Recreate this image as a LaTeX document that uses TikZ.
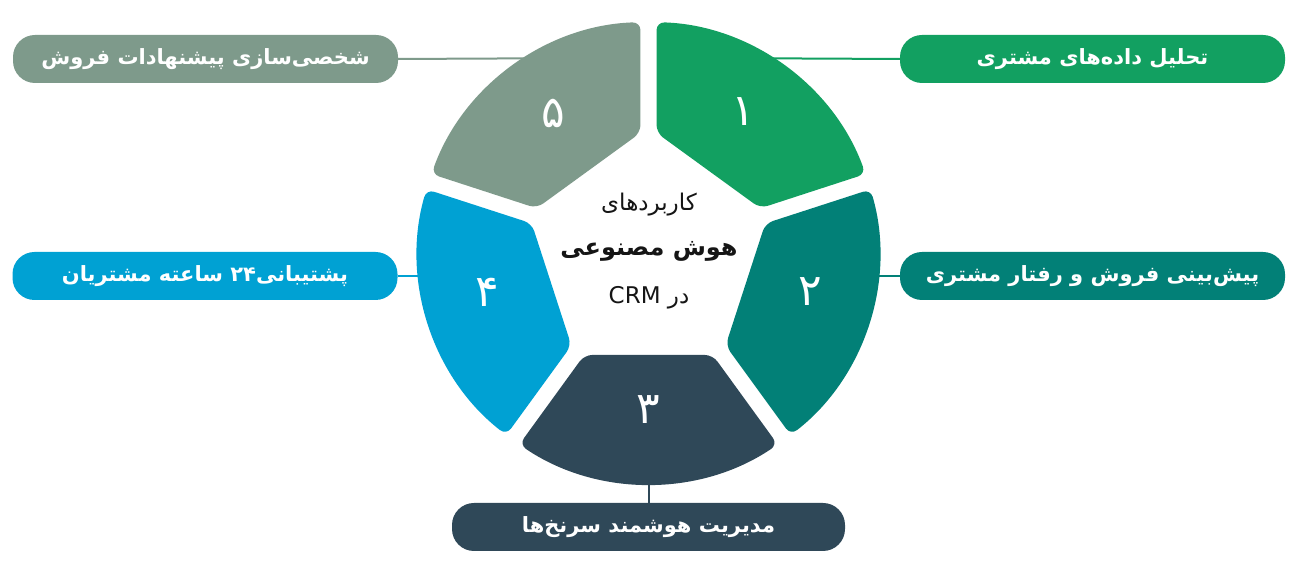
\documentclass[tikz,border=0pt]{standalone}
\usepackage{fontspec}
\usetikzlibrary{calc}
\TeXXeTstate=1
\newfontfamily\fa[Script=Arabic]{DejaVu Sans}
\definecolor{cg}{HTML}{12A061}
\definecolor{ct}{HTML}{028077}
\definecolor{cd}{HTML}{2F4858}
\definecolor{cb}{HTML}{00A1D3}
\definecolor{cs}{HTML}{7E9A8B}
\definecolor{ink}{HTML}{151515}
\newcommand\ringseg[3]{%
  \path (C) ++(#1:126) coordinate (pa) (C) ++(#2:126) coordinate (pb);
  \fill[#3,rounded corners=8pt] ($(pa)!9.9pt!(pb)$) -- ($(C)+(#1+2:231)$)
    arc[start angle=#1+2,end angle=#2-2,radius=231] -- ($(pb)!9.9pt!(pa)$) -- cycle;}
\tikzset{
  lbl/.style={rounded corners=22pt, minimum width=385pt, minimum height=48pt,
    text=white, inner sep=0pt, font=\fa\bfseries\fontsize{21}{25}\selectfont},
  conn/.style={line width=2pt},
  num/.style={text=white, inner sep=0pt, font=\fa\fontsize{44}{52}\selectfont},
  ctr/.style={text=ink, inner sep=0pt}
}
\begin{document}
\begin{tikzpicture}[x=1pt,y=1pt]
\fill[white] (0,0) rectangle (1300,588);
\useasboundingbox (0,0) rectangle (1300,588);
\coordinate (C) at (648.5,335);
% label boxes
\node[lbl,fill=cs] (b5) at (205.5,529) {\beginR شخصی^^^^200cسازی پیشنهادات فروش\endR};
\node[lbl,fill=cg] (b1) at (1092.5,529) {\beginR تحلیل داده^^^^200cهای مشتری\endR};
\node[lbl,fill=cb] (b4) at (205,312) {\beginR پشتیبانی۲۴ ساعته مشتریان\endR};
\node[lbl,fill=ct] (b2) at (1092.5,312) {\beginR پیش^^^^200cبینی فروش و رفتار مشتری\endR};
\node[lbl,fill=cd,minimum width=393pt] (b3) at (648.5,61) {\beginR مدیریت هوشمند سرنخ^^^^200cها\endR};
% connectors (behind the ring)
\coordinate (k5) at (600,530);
\coordinate (k1) at (700,530);
\coordinate (k4) at (470,312);
\coordinate (k2) at (830,312);
\coordinate (k3) at (648.5,140);
\draw[conn,cs] (b5.east) -- (k5);
\draw[conn,cg] (b1.west) -- (k1);
\draw[conn,cb] (b4.east) -- (k4);
\draw[conn,ct] (b2.west) -- (k2);
\draw[conn,cd] (b3.north) -- (k3);
% ring segments
\ringseg{18}{90}{cg}
\ringseg{90}{162}{cs}
\ringseg{162}{234}{cb}
\ringseg{234}{306}{cd}
\ringseg{306}{378}{ct}
% numbers
\node[num] (n1) at (743,476) {۱};
\node[num] (n5) at (553,475) {۵};
\node[num] (n2) at (810,296) {۲};
\node[num] (n4) at (487,296) {۴};
\node[num] (n3) at (648,178) {۳};
% centre text
\node[ctr,font=\fa\fontsize{23}{27}\selectfont] (t1) at (649,383) {\beginR کاربردهای\endR};
\node[ctr,font=\fa\bfseries\fontsize{24}{29}\selectfont] (t2) at (649,337) {\beginR هوش مصنوعی\endR};
\node[ctr,font=\fa\fontsize{23}{27}\selectfont] (t3) at (649,290) {\beginR در CRM\endR};
\end{tikzpicture}
\end{document}
